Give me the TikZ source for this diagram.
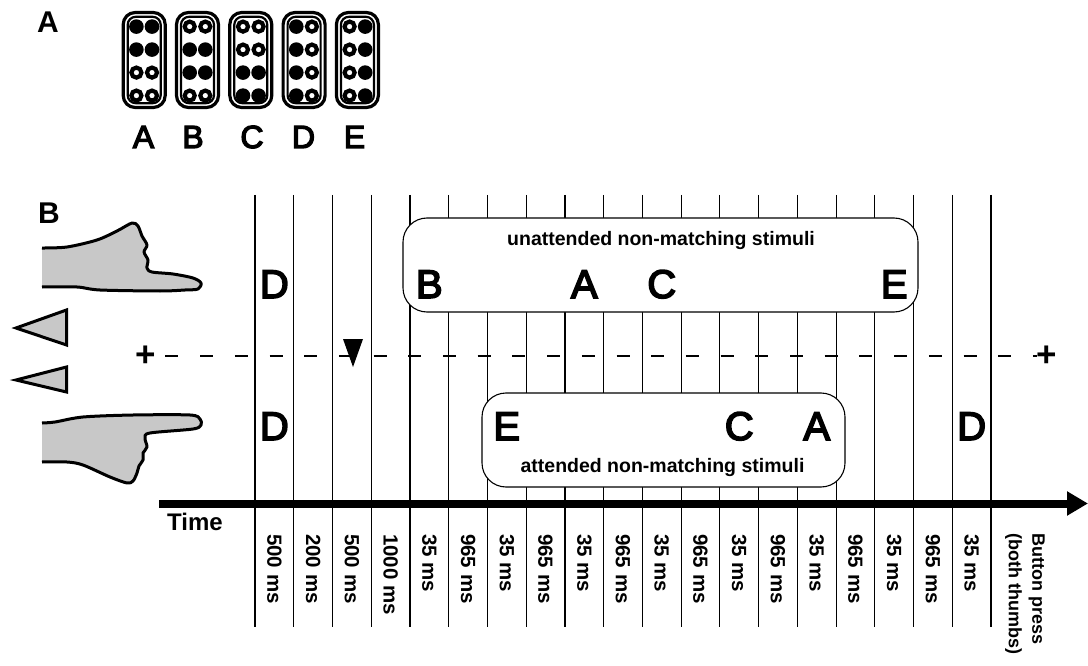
\documentclass[tikz,border=0pt]{standalone}
\usepackage{fontspec}
\setmainfont{Liberation Sans}
\newfontfamily\heavyfont{Liberation Sans}[BoldFont={Liberation Sans}, BoldFeatures={FakeBold=4}]
\usetikzlibrary{arrows.meta}
\definecolor{handgrey}{RGB}{200,200,200}

% one braille cell: #1 = x of its centre, #2 = eight dots row by row (1 = raised)
\newcommand\braillecell[2]{%
  \draw[line width=3.2pt, rounded corners=12pt] ({#1-21},12.5) rectangle ({#1+21},107.5);
  \draw[line width=2.2pt, rounded corners=8pt] ({#1-16.5},16.8) rectangle ({#1+16.5},103.2);
  \foreach \f [count=\k from 0] in {#2}{%
    \ifnum\f=1
      \fill ({#1-7.8+15.6*mod(\k,2)},{26.6+23*int(\k/2)}) circle[radius=7.3];
    \else
      \draw[line width=4.2pt, fill=white] ({#1-7.8+15.6*mod(\k,2)},{26.6+23*int(\k/2)}) circle[radius=5];
    \fi
  }%
}

\begin{document}
\begin{tikzpicture}[x=1pt,y=-1pt,
  vline/.style={line width=1.2pt},
  stimbox/.style={draw, line width=1.1pt, fill=white, rounded corners=24pt, inner sep=0pt},
  seq/.style={font=\heavyfont\bfseries\fontsize{40}{40}\selectfont, anchor=base, inner sep=0pt},
  cellletter/.style={font=\heavyfont\bfseries\fontsize{32}{32}\selectfont, anchor=base, inner sep=0pt},
  panel/.style={font=\bfseries\fontsize{30}{30}\selectfont, anchor=base west, inner sep=0pt},
  boxtext/.style={font=\bfseries\fontsize{19.5}{19.5}\selectfont, anchor=base, inner sep=0pt},
  tlabel/.style={font=\bfseries\fontsize{20.5}{20.5}\selectfont, rotate=-90, anchor=west, inner sep=0pt},
  fix/.style={font=\bfseries\fontsize{35}{35}\selectfont, inner sep=0pt},
  outline/.style={line width=3pt, line join=round},
]
\useasboundingbox (0,0) rectangle (1088,666);

% ---- panel A: braille cells
\node[panel] (labA) at (37,33) {A};
\braillecell{144.2}{1,1,1,1,0,0,0,0}
\braillecell{197.5}{0,0,1,1,1,1,0,0}
\braillecell{250.8}{0,0,0,0,1,1,1,1}
\braillecell{304.1}{1,0,1,0,1,0,1,0}
\braillecell{357.4}{0,1,0,1,0,1,0,1}
\foreach \x/\l in {143.5/A,193/B,252/C,303.5/D,354.5/E}
  \node[cellletter] (cell\l) at (\x,148) {\l};

% ---- panel B
\node[panel] (labB) at (38,223) {B};

% hands
\fill[handgrey] plot[smooth, tension=0.5] coordinates {(42,248) (67,247) (97,240) (117,231) (132,223) (138,226) (142,236) (147,245) (144,252) (148,260) (147,268) (152,272) (173,274) (193,278) (201,283) (198,289) (185,290) (160,291) (100,290) (77,287) (42,287)} -- cycle;
\draw[outline] plot[smooth, tension=0.5] coordinates {(42,248) (67,247) (97,240) (117,231) (132,223) (138,226) (142,236) (147,245) (144,252) (148,260) (147,268) (152,272) (173,274) (193,278) (201,283) (198,289) (185,290) (160,291) (100,290) (77,287) (42,287)};
\fill[handgrey] plot[smooth, tension=0.5] coordinates {(42,423) (55,422) (83,417) (133,415) (190,415) (200,419) (201,425) (193,429) (150,433) (145,438) (147,447) (143,453) (143,460) (139,466) (137,473) (133,481) (127,483) (110,477) (83,465) (67,462) (42,462)} -- cycle;
\draw[outline] plot[smooth, tension=0.5] coordinates {(42,423) (55,422) (83,417) (133,415) (190,415) (200,419) (201,425) (193,429) (150,433) (145,438) (147,447) (143,453) (143,460) (139,466) (137,473) (133,481) (127,483) (110,477) (83,465) (67,462) (42,462)};

% left-pointing cues
\draw[outline, line join=miter, fill=handgrey] (66.5,310) -- (16,328) -- (66.5,345) -- cycle;
\draw[outline, line join=miter, fill=handgrey] (66.5,367) -- (16,380) -- (66.5,392) -- cycle;

% time grid
\foreach \i in {0,...,19}
  \draw[vline] ({255+38.74*\i},195) -- ({255+38.74*\i},627);

% fixation crosses and the dashed line between them
\node[fix] (fixL) at (146,356) {+};
\node[fix] (fixR) at (1047,356) {+};
\draw[line width=1.2pt, dash pattern=on 13pt off 21.7pt, shorten <=9pt] (fixL.east) -- (fixR.west);

% onset marker
\fill (343,339) -- (363,339) -- (353,367) -- cycle;

% stream boxes
\node[stimbox, minimum width=515pt, minimum height=94pt] (unatt) at (660.5,265) {};
\node[stimbox, minimum width=363pt, minimum height=94pt] (att) at (663.5,440) {};
\node[boxtext] (unattlabel) at (661,246) {unattended non-matching stimuli};
\node[boxtext] (attlabel) at (662.5,472) {attended non-matching stimuli};

% stimulus letters
\foreach \i/\l [count=\n] in {0/D,4/B,8/A,10/C,16/E}
  \node[seq] (up\n) at ({255+38.74*(\i+0.5)},298) {\l};
\foreach \i/\l [count=\n] in {0/D,6/E,12/C,14/A,18/D}
  \node[seq] (low\n) at ({255+38.74*(\i+0.5)},440) {\l};

% time axis
\coordinate (t0) at (159,503.5);
\coordinate (t1) at (1088,503.5);
\draw[line width=8pt, -{Triangle[length=21pt, width=23pt]}] (t0) -- (t1);
\node[font=\bfseries\fontsize{24}{24}\selectfont, anchor=base west, inner sep=0pt] (timelabel) at (167,530) {Time};

% durations
\foreach \lab [count=\n from 0] in {500 ms,200 ms,500 ms,1000 ms,35 ms,965 ms,35 ms,965 ms,35 ms,965 ms,35 ms,965 ms,35 ms,965 ms,35 ms,965 ms,35 ms,965 ms,35 ms}
  \node[tlabel] (dur\n) at ({255+38.74*(\n+0.5)},534) {\lab};
\node[tlabel, align=left, font=\bfseries\fontsize{18}{23.5}\selectfont] (press) at (1025,533) {Button press\\(both thumbs)};
\end{tikzpicture}
\end{document}
